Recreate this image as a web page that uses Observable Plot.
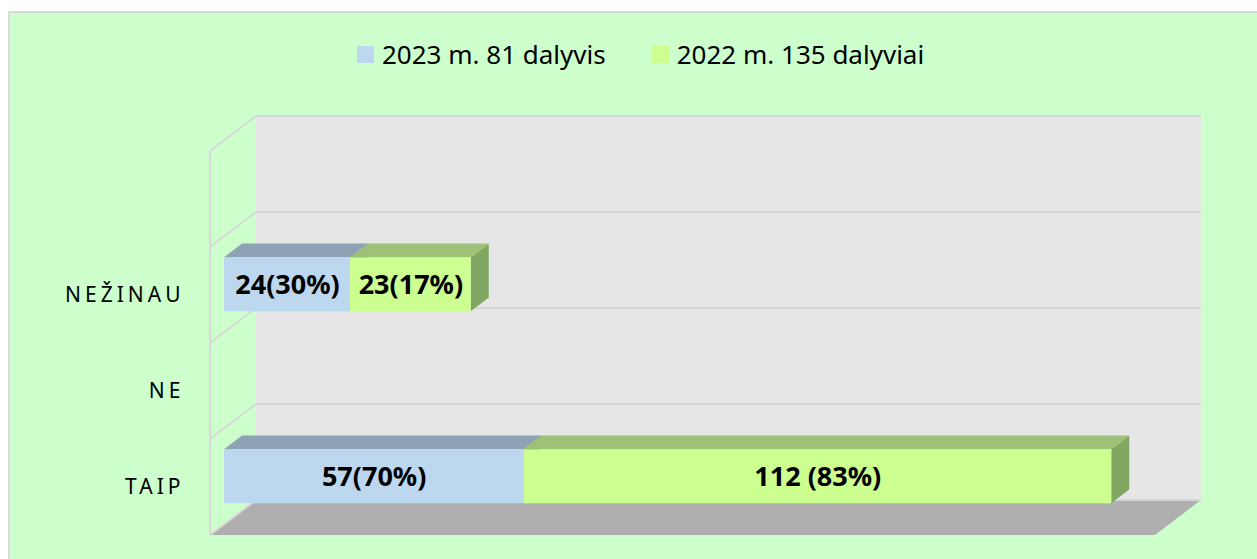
<!DOCTYPE html>
<html>
<head>
<meta charset="utf-8">
<script src="https://cdn.jsdelivr.net/npm/d3@7"></script>
<script src="https://cdn.jsdelivr.net/npm/@observablehq/plot@0.6"></script>
<style>
  html, body { margin: 0; padding: 0; background: #ffffff; }
  #bg { position: absolute; left: 8px; top: 11px; width: 1249px; height: 548px; box-sizing: border-box;
        background: #ccffcc; border-left: 2px solid #d9d9d9; border-top: 2px solid #d9d9d9; }
  #legend { position: absolute; left: 357px; top: 37px; display: flex; align-items: center;
            font-family: "Noto Sans", sans-serif; font-size: 26px; color: #000; line-height: 34px; }
  #legend .item { display: flex; align-items: center; margin-right: 46px; }
  #legend .sw { width: 17px; height: 17px; margin-right: 8px; }
  #plot { position: absolute; left: 0; top: 90px; }
</style>
</head>
<body>
<div id="bg"></div>
<div id="legend"></div>
<div id="plot"></div>
<script>
// ---- data ----
const categories = ["TAIP", "NE", "NEŽINAU"];
const seriesNames = ["2023 m. 81 dalyvis", "2022 m. 135 dalyviai"];
const values2023 = [57, 0, 24];
const values2022 = [112, 0, 23];
const labels2023 = ["57(70%)", "", "24(30%)"];
const labels2022 = ["112 (83%)", "", "23(17%)"];
const yDomain = [" ", "NEŽINAU", "NE", "TAIP"]; // top band is empty in the original
const xMax = 180;

// ---- styles ----
const frontColors = ["#bdd7ee", "#ccff90"];
const topColors = ["#8ea2b5", "#9cc177"];
const sideColors = ["#71879b", "#81a862"];

const rows = [];
seriesNames.forEach((s, si) => {
  const vals = si === 0 ? values2023 : values2022;
  const labs = si === 0 ? labels2023 : labels2022;
  categories.forEach((c, ci) => {
    if (vals[ci] > 0) rows.push({cat: c, series: s, si, value: vals[ci], label: labs[ci]});
  });
});

// legend
const legend = document.getElementById("legend");
seriesNames.forEach((s, i) => {
  const it = document.createElement("div");
  it.className = "item";
  const sw = document.createElement("div");
  sw.className = "sw";
  sw.style.background = frontColors[i];
  const tx = document.createElement("span");
  tx.textContent = s;
  it.appendChild(sw); it.appendChild(tx);
  legend.appendChild(it);
});

// 3D geometry (pixels): wall depth, bar front/back offsets from the back wall
const wallD = [-46, 35];
const barF = [-32, 24.3];
const barK = [-14, 10.6];
const barInset = 21;

const walls = (index, scales, values, dims) => {
  const L = dims.marginLeft, T = dims.marginTop;
  const Rx = dims.width - dims.marginRight, By = dims.height - dims.marginBottom;
  const g = d3.create("svg:g");
  g.append("rect").attr("x", L).attr("y", T).attr("width", Rx - L).attr("height", By - T).attr("fill", "#e6e6e6");
  const bounds = yDomain.map(d => scales.y(d)).concat([By]);
  g.append("polygon")
    .attr("points", [[L, By], [Rx, By], [Rx + wallD[0], By + wallD[1]], [L + wallD[0], By + wallD[1]]].map(p => p.join(",")).join(" "))
    .attr("fill", "#afafaf");
  bounds.forEach(b => {
    g.append("line").attr("x1", L).attr("x2", Rx).attr("y1", b).attr("y2", b)
      .attr("stroke", "#d6d6d6").attr("stroke-width", 2);
  });
  bounds.forEach(b => {
    g.append("line").attr("x1", L).attr("y1", b).attr("x2", L + wallD[0]).attr("y2", b + wallD[1])
      .attr("stroke", "#d9d9d9").attr("stroke-width", 2);
  });
  g.append("line").attr("x1", L + wallD[0]).attr("x2", L + wallD[0])
    .attr("y1", T + wallD[1]).attr("y2", By + wallD[1])
    .attr("stroke", "#d9d9d9").attr("stroke-width", 2);
  return g.node();
};

const bars3d = (index, scales, values, dims) => {
  const g = d3.create("svg:g");
  const bw = scales.y.bandwidth ? scales.y.bandwidth() : (dims.height - dims.marginTop - dims.marginBottom) / yDomain.length;
  const pts = a => a.map(p => p.join(",")).join(" ");
  for (const i of index) {
    const xa = values.x1[i], xb = values.x2[i];
    const yt = values.y[i] + barInset, yb = values.y[i] + bw - barInset;
    const si = rows[i].si;
    g.append("polygon").attr("points", pts([[xb + barF[0], yt + barF[1]], [xb + barK[0], yt + barK[1]], [xb + barK[0], yb + barK[1]], [xb + barF[0], yb + barF[1]]]))
      .attr("fill", sideColors[si]);
    g.append("polygon").attr("points", pts([[xa + barF[0], yt + barF[1]], [xb + barF[0], yt + barF[1]], [xb + barK[0], yt + barK[1]], [xa + barK[0], yt + barK[1]]]))
      .attr("fill", topColors[si]);
    g.append("rect").attr("x", xa + barF[0]).attr("y", yt + barF[1]).attr("width", xb - xa).attr("height", yb - yt)
      .attr("fill", frontColors[si]);
  }
  return g.node();
};

const plot = Plot.plot({
  width: 1257,
  height: 469,
  marginLeft: 256,
  marginRight: 56,
  marginTop: 26,
  marginBottom: 59,
  style: {background: "transparent", fontFamily: "Noto Sans, sans-serif", overflow: "visible"},
  x: {domain: [0, xMax], axis: null},
  y: {type: "band", domain: yDomain, padding: 0, axis: null},
  marks: [
    walls,
    Plot.barX(rows, Plot.stackX({x: "value", y: "cat", z: "series", render: bars3d})),
    Plot.text(rows, Plot.stackX({x: "value", y: "cat", z: "series", text: "label",
      dx: barF[0], dy: barF[1] + 1, fontSize: 27, fontWeight: "bold", fill: "#000"})),
    Plot.text(yDomain, {y: d => d, text: d => d, frameAnchor: "left", dx: -72, dy: 35,
      textAnchor: "end", fontSize: 21, fill: "#000", ariaDescription: "catlabels"})
  ]
});
d3.select(plot).selectAll("text").each(function() {
  const t = this.textContent;
  if (categories.includes(t)) d3.select(this).attr("letter-spacing", "4px");
});
document.getElementById("plot").appendChild(plot);
</script>
</body>
</html>
